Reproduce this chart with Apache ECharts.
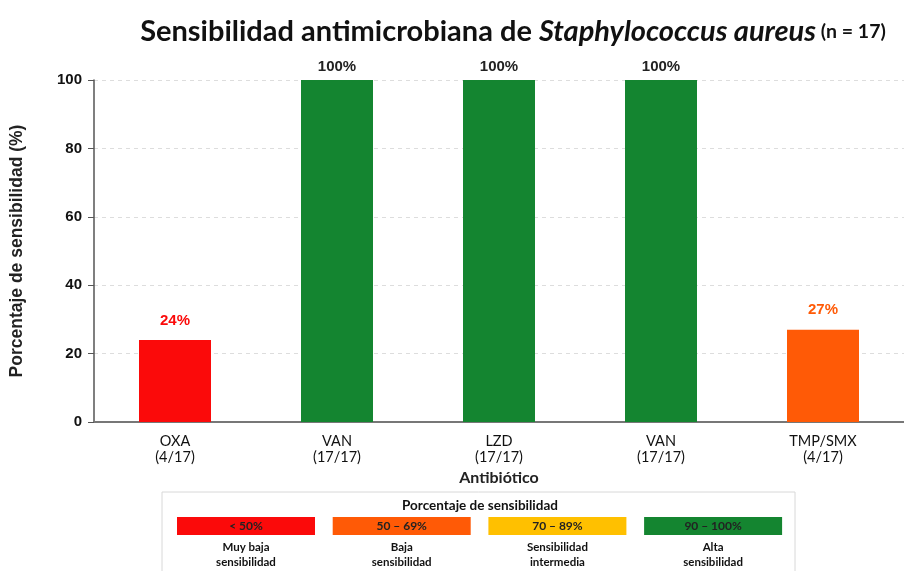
<!DOCTYPE html>
<html>
<head>
<meta charset="utf-8">
<script src="https://cdn.jsdelivr.net/npm/echarts@6/dist/echarts.min.js"></script>
<style>
  html, body { margin: 0; padding: 0; background: #fff; }
  #chart { width: 904px; height: 571px; }
</style>
</head>
<body>
<div id="chart"></div>
<script>
// data
const antibiotics = ["OXA", "VAN", "LZD", "VAN", "TMP/SMX"];
const ratios = ["4/17", "17/17", "17/17", "17/17", "4/17"];
const sensitivity = [24, 100, 100, 100, 27];
const barColors = ["#fb0a0a", "#148530", "#148530", "#148530", "#ff5a06"];
const yTicks = [0, 20, 40, 60, 80, 100];

const legendRanges = ["< 50%", "50 – 69%", "70 – 89%", "90 – 100%"];
const legendNames = ["Muy baja\nsensibilidad", "Baja\nsensibilidad", "Sensibilidad\nintermedia", "Alta\nsensibilidad"];
const legendColors = ["#fb0a0a", "#ff5a06", "#ffc000", "#148530"];

const chart = echarts.init(document.getElementById("chart"));

const labelFont = "Lato, 'Open Sans', sans-serif";
const helv = "'Liberation Sans', Arial, sans-serif";

let legendGraphics = [
  {
    type: "rect",
    shape: { x: 162, y: 492, width: 633, height: 90 },
    style: { fill: "#fff", stroke: "#d8d8d8", lineWidth: 1 }
  },
  {
    type: "text",
    x: 480, y: 506,
    style: {
      text: "Porcentaje de sensibilidad",
      font: "bold 13.5px " + labelFont,
      fill: "#111",
      align: "center", verticalAlign: "middle"
    }
  }
];
legendRanges.forEach((r, i) => {
  let x0 = 177 + i * 155.7;
  legendGraphics.push({
    type: "rect",
    shape: { x: x0, y: 517, width: 138, height: 18 },
    style: { fill: legendColors[i] }
  });
  legendGraphics.push({
    type: "text",
    x: x0 + 69, y: 526,
    style: {
      text: r, font: "bold 12px " + labelFont, fill: "#222",
      align: "center", verticalAlign: "middle"
    }
  });
  legendGraphics.push({
    type: "text",
    x: x0 + 69, y: 555,
    style: {
      text: legendNames[i], font: "bold 11.5px " + labelFont, fill: "#111",
      align: "center", verticalAlign: "middle", lineHeight: 15
    }
  });
});

chart.setOption({
  animation: false,
  title: {
    text: "{a|Sensibilidad antimicrobiana de }{i|Staphylococcus aureus}{s| (n = 17)}",
    left: 508, top: 12, textAlign: "center",
    textStyle: {
      rich: {
        a: { fontFamily: labelFont, fontWeight: "bold", fontSize: 29, color: "#111" },
        i: { fontFamily: labelFont, fontWeight: "bold", fontStyle: "italic", fontSize: 29, color: "#111" },
        s: { fontFamily: labelFont, fontWeight: "bold", fontSize: 19.5, color: "#111" }
      }
    }
  },
  grid: { left: 89, top: 80, width: 822, height: 342 },
  xAxis: {
    type: "category",
    data: antibiotics,
    name: "Antibiótico",
    nameLocation: "middle",
    nameGap: 48,
    nameTextStyle: { fontFamily: labelFont, fontSize: 16, fontWeight: "bold", color: "#222" },
    axisLine: { lineStyle: { color: "#777", width: 2 } },
    axisTick: { show: false },
    axisLabel: {
      margin: 11,
      fontFamily: labelFont, fontSize: 14.5, color: "#111", lineHeight: 16,
      formatter: (v, i) => v + "\n(" + ratios[i] + ")"
    }
  },
  yAxis: {
    type: "value",
    min: 0, max: 100, interval: 20,
    name: "Porcentaje de sensibilidad (%)",
    nameLocation: "middle",
    nameGap: 68,
    nameTextStyle: { fontFamily: helv, fontSize: 17.5, fontWeight: "bold", color: "#222" },
    axisLine: { show: true, lineStyle: { color: "#555", width: 1.5 } },
    axisTick: { show: true, length: 6, lineStyle: { color: "#555" } },
    axisLabel: {
      margin: 12,
      fontFamily: helv, fontSize: 15, fontWeight: "bold", color: "#111",
      formatter: v => (yTicks.includes(v) ? String(v) : "")
    },
    splitLine: { lineStyle: { color: "#ddd", type: [4, 4] } }
  },
  series: [{
    type: "bar",
    barWidth: 72,
    data: sensitivity.map((v, i) => ({
      value: v,
      itemStyle: { color: barColors[i] },
      label: {
        color: v >= 90 ? "#222" : barColors[i],
        distance: v >= 90 ? 6 : 12
      }
    })),
    label: {
      show: true,
      position: "top",
      formatter: "{c}%",
      fontFamily: helv,
      fontSize: 15,
      fontWeight: "bold"
    }
  }],
  graphic: legendGraphics
});
</script>
</body>
</html>
